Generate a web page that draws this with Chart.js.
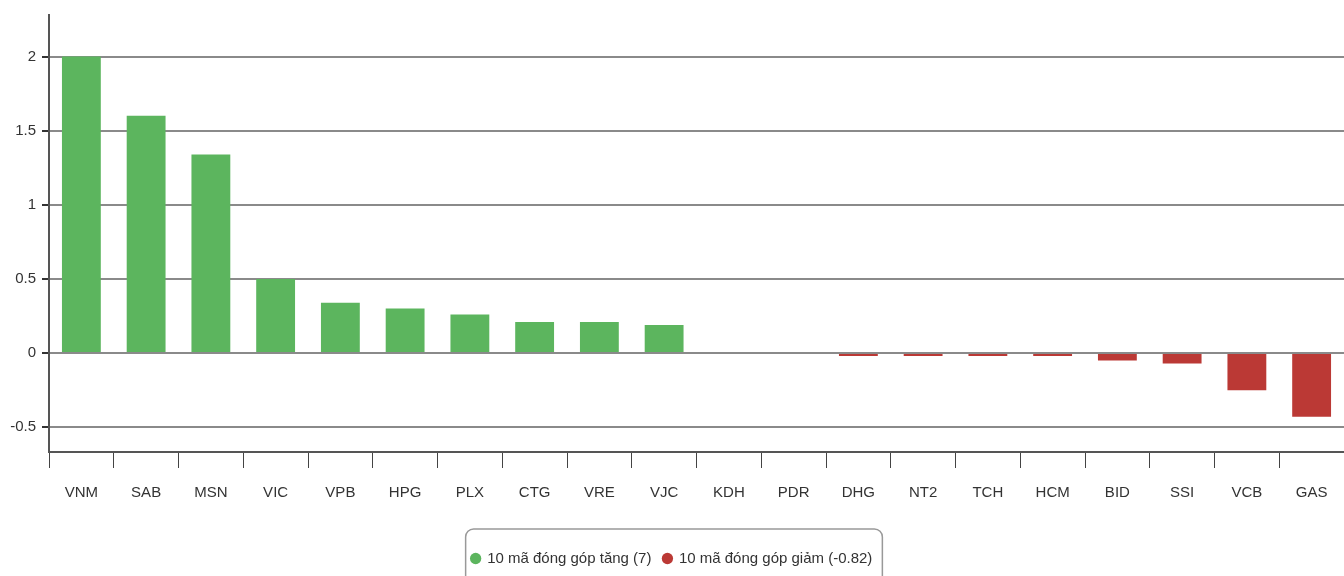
<!DOCTYPE html>
<html>
<head>
<meta charset="utf-8">
<script src="https://cdn.jsdelivr.net/npm/chart.js@4"></script>
<style>
    html, body { margin: 0; padding: 0; background: #fff; }
    #wrap { width: 1344px; height: 576px; }
</style>
</head>
<body>
<div id="wrap"><canvas id="contribChart"></canvas></div>
<script>
const tickers = ['VNM', 'SAB', 'MSN', 'VIC', 'VPB', 'HPG', 'PLX', 'CTG', 'VRE', 'VJC',
                 'KDH', 'PDR', 'DHG', 'NT2', 'TCH', 'HCM', 'BID', 'SSI', 'VCB', 'GAS'];
const gainers = [2.0, 1.6, 1.34, 0.5, 0.34, 0.3, 0.26, 0.21, 0.21, 0.19,
                 null, null, null, null, null, null, null, null, null, null];
const losers = [null, null, null, null, null, null, null, null, null, null,
                0, 0, -0.02, -0.02, -0.02, -0.02, -0.05, -0.07, -0.25, -0.43];
const legendLabels = ['10 mã đóng góp tăng (7)', '10 mã đóng góp giảm (-0.82)'];

const GREEN = '#5cb55e';
const RED = '#bb3935';
const FONT = "'Liberation Sans', Arial, sans-serif";

// draws the rounded frame round the legend
const legendFrame = {
    id: 'legendFrame',
    afterDraw(chart) {
        const lg = chart.legend;
        if (!lg || !lg.legendHitBoxes.length) return;
        const boxes = lg.legendHitBoxes;
        const left = boxes[0].left - 6;
        const right = boxes[boxes.length - 1].left + boxes[boxes.length - 1].width + 10;
        const top = boxes[0].top - 22;
        const ctx = chart.ctx;
        ctx.save();
        ctx.strokeStyle = '#999';
        ctx.lineWidth = 1.5;
        ctx.beginPath();
        ctx.roundRect(left, top, right - left, 80, 8);
        ctx.stroke();
        ctx.restore();
    }
};

const ctx = document.getElementById('contribChart').getContext('2d');
new Chart(ctx, {
    type: 'bar',
    data: {
        labels: tickers,
        datasets: [{
            label: legendLabels[0],
            data: gainers,
            backgroundColor: GREEN,
            borderWidth: 0,
            barPercentage: 0.6,
            categoryPercentage: 1
        }, {
            label: legendLabels[1],
            data: losers,
            backgroundColor: RED,
            borderWidth: 0,
            barPercentage: 0.6,
            categoryPercentage: 1
        }]
    },
    options: {
        responsive: true,
        maintainAspectRatio: false,
        animation: false,
        layout: { padding: { top: 15, right: 0, left: 0, bottom: 0 } },
        scales: {
            x: {
                stacked: true,
                afterFit: (scale) => { scale.height += 21; },
                grid: {
                    offset: true,
                    drawOnChartArea: false,
                    tickLength: 16,
                    color: '#444',
                    lineWidth: 1
                },
                border: { color: '#555', width: 2 },
                ticks: {
                    color: '#333',
                    padding: 16,
                    font: { family: FONT, size: 15 },
                    maxRotation: 0,
                    autoSkip: false
                }
            },
            y: {
                min: -0.667,
                max: 2.28,
                afterFit: (scale) => { scale.width = 49; },
                grid: {
                    color: '#8a8a8a',
                    lineWidth: 2,
                    tickLength: 7,
                    tickColor: '#333'
                },
                border: { color: '#555', width: 2 },
                ticks: {
                    stepSize: 0.5,
                    includeBounds: false,
                    color: '#333',
                    padding: 6,
                    font: { family: FONT, size: 15 },
                    callback: (value) => String(value)
                }
            }
        },
        plugins: {
            legend: {
                position: 'bottom',
                labels: {
                    usePointStyle: true,
                    pointStyle: 'circle',
                    boxWidth: 8,
                    boxHeight: 8,
                    color: '#333',
                    padding: 12,
                    font: { family: FONT, size: 15 }
                }
            },
            tooltip: { enabled: false }
        }
    },
    plugins: [legendFrame]
});
</script>
</body>
</html>
